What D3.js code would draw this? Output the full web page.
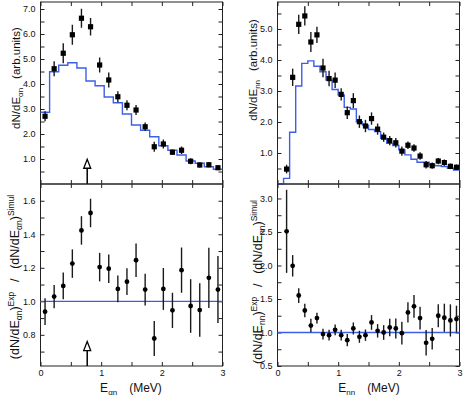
<!DOCTYPE html>
<html>
<head>
<meta charset="utf-8">
<script src="https://d3js.org/d3.v7.min.js"></script>
<style>
  body { margin: 0; background: #fff; }
  text { font-family: "Liberation Sans", Arial, sans-serif; fill: #111; }
</style>
</head>
<body>
<svg id="chart" width="463" height="399"></svg>
<script>
// ---- alpha-n spectrum (left column), bins of 0.15 MeV ----
const alphaE = [0.075,0.225,0.375,0.525,0.675,0.825,0.975,1.125,1.275,1.425,1.575,1.725,1.875,2.025,2.175,2.325,2.475,2.625,2.775,2.925];
const alphaY = [2.71,4.61,5.23,5.97,6.63,6.29,4.76,4.16,3.49,3.15,2.96,2.29,1.49,1.60,1.27,1.35,0.91,0.76,0.77,0.65];
const alphaYErr = [0.2,0.3,0.4,0.4,0.38,0.35,0.3,0.3,0.22,0.2,0.2,0.17,0.2,0.18,0.11,0.15,0.12,0.1,0.1,0.09];
const alphaEdges = [0,0.15,0.3,0.45,0.6,0.75,0.9,1.05,1.2,1.35,1.5,1.65,1.8,1.95,2.1,2.25,2.4,2.55,2.7,2.85,3.0];
const alphaSim = [2.87,4.49,4.75,4.85,4.64,4.12,3.93,3.48,3.25,2.80,2.36,2.15,1.89,1.53,1.35,1.16,0.92,0.83,0.69,0.59];
const alphaRatio = [0.938,1.028,1.092,1.225,1.423,1.527,1.204,1.195,1.074,1.117,1.245,1.07,0.778,1.074,0.946,1.186,0.972,0.948,1.14,1.07];
const alphaRatioErr = [0.08,0.07,0.08,0.085,0.085,0.085,0.085,0.085,0.08,0.08,0.1,0.095,0.105,0.125,0.105,0.135,0.16,0.16,0.18,0.2];

// ---- n-n spectrum (right column), bins of 0.1 MeV ----
const nnE = [0.15,0.25,0.35,0.45,0.55,0.65,0.75,0.85,0.95,1.05,1.15,1.25,1.35,1.45,1.55,1.65,1.75,1.85,1.95,2.05,2.15,2.25,2.35,2.45,2.55,2.65,2.75,2.85,2.95];
const nnY = [0.48,3.44,5.15,5.42,4.58,4.81,3.74,3.40,3.35,2.89,2.30,2.69,2.01,1.87,2.11,1.77,1.51,1.40,1.33,1.06,1.25,1.16,0.90,0.62,0.59,0.74,0.69,0.57,0.54];
const nnYErr = [0.14,0.28,0.31,0.31,0.32,0.26,0.3,0.25,0.25,0.2,0.2,0.24,0.2,0.2,0.2,0.18,0.15,0.15,0.15,0.15,0.12,0.12,0.12,0.12,0.1,0.1,0.1,0.09,0.09];
const nnEdges = [0,0.1,0.2,0.3,0.4,0.5,0.6,0.7,0.8,0.9,1.0,1.1,1.2,1.3,1.4,1.5,1.6,1.7,1.8,1.9,2.0,2.1,2.2,2.3,2.4,2.5,2.6,2.7,2.8,2.9,3.0];
const nnSim = [0,0.18,1.67,3.16,3.89,3.97,3.80,3.62,3.35,3.05,2.87,2.47,2.42,2.01,1.90,1.76,1.69,1.47,1.31,1.24,1.10,0.94,0.80,0.70,0.70,0.61,0.59,0.56,0.51,0.45];
const nnRatio = [2.51,1.995,1.552,1.328,1.104,1.215,0.976,0.96,1.04,0.96,0.886,1.06,0.936,0.96,1.15,1.025,1.0,1.075,1.06,0.99,1.30,1.39,1.215,0.846,0.906,1.25,1.22,1.18,1.20];
const nnRatioErr = [0.62,0.16,0.11,0.1,0.1,0.08,0.08,0.08,0.08,0.08,0.09,0.09,0.09,0.085,0.11,0.1,0.11,0.13,0.15,0.17,0.15,0.17,0.17,0.19,0.16,0.17,0.21,0.24,0.2];

// ---- ticks ----
const xTicks = [0,0.5,1,1.5,2,2.5,3];
const xLabels = [0,1,2,3];
const alphaTopTicks = [0.5,1,1.5,2,2.5,3,3.5,4,4.5,5,5.5,6,6.5,7];
const alphaTopLabels = [1,2,3,4,5,6,7];
const alphaBotTicks = [0.7,0.8,0.9,1.0,1.1,1.2,1.3,1.4,1.5,1.6];
const alphaBotLabels = [0.8,1.0,1.2,1.4,1.6];
const nnTopTicks = [0.5,1,1.5,2,2.5,3,3.5,4,4.5,5,5.5];
const nnTopLabels = [1,2,3,4,5];
const nnBotTicks = [0.5,0.75,1,1.25,1.5,1.75,2,2.25,2.5,2.75,3];
const nnBotLabels = [0.5,1,1.5,2,2.5,3];

// arrow marking the alpha-n feature
const arrowE = 0.77;
const arrowTopTip = 0.99;
const arrowBotTip = 0.76;

const blue = "#3d5fe6";
const svg = d3.select("#chart");

const xL = d3.scaleLinear().domain([0, 3]).range([40.5, 222.5]);
const xR = d3.scaleLinear().domain([0, 3]).range([277.5, 459.5]);
const yTL = d3.scaleLinear().domain([0, 7.28]).range([184, 2]);
const yBL = d3.scaleLinear().domain([0.614, 1.70]).range([366, 184]);
const yTR = d3.scaleLinear().domain([0, 5.87]).range([184, 2]);
const yBR = d3.scaleLinear().domain([0.5, 3.216]).range([366, 184]);

const has = (arr, d) => arr.some(v => Math.abs(v - d) < 1e-6);

function panel(x, y, yTicks, yLabels, showX) {
  const g = svg.append("g");
  const [x0, x1] = x.range(), [y0, y1] = y.range();
  const clean = s => s.select(".domain").remove();
  g.append("g").attr("transform", `translate(${x0},0)`)
    .call(d3.axisLeft(y).tickValues(yTicks).tickSize(-4).tickPadding(5)
      .tickFormat(d => has(yLabels, d) ? d3.format(".1f")(d) : ""))
    .call(clean);
  g.append("g").attr("transform", `translate(${x1},0)`)
    .call(d3.axisRight(y).tickValues(yTicks).tickSize(-4).tickFormat(""))
    .call(clean);
  g.append("g").attr("transform", `translate(0,${y0})`)
    .call(d3.axisBottom(x).tickValues(xTicks).tickSize(-4).tickPadding(4)
      .tickFormat(d => showX && has(xLabels, d) ? d3.format("d")(d) : ""))
    .call(clean);
  g.append("g").attr("transform", `translate(0,${y1})`)
    .call(d3.axisTop(x).tickValues(xTicks).tickSize(-4).tickFormat(""))
    .call(clean);
  g.selectAll(".tick line").attr("stroke", "#222");
  g.selectAll(".tick text").attr("font-size", 9).attr("fill", "#111")
    .attr("font-family", "Liberation Sans, Arial, sans-serif");
  g.append("rect").attr("x", x0).attr("y", y1)
    .attr("width", x1 - x0).attr("height", y0 - y1)
    .attr("fill", "none").attr("stroke", "#222").attr("stroke-width", 1);
  return g;
}

function histogram(x, y, edges, vals) {
  const pts = vals.map((v, i) => [edges[i], v]);
  pts.push([edges[edges.length - 1], vals[vals.length - 1]]);
  svg.append("path").datum(pts)
    .attr("d", d3.line().x(d => x(d[0])).y(d => y(d[1])).curve(d3.curveStepAfter))
    .attr("fill", "none").attr("stroke", blue).attr("stroke-width", 1.4);
}

function points(x, y, es, vs, errs, square) {
  const g = svg.append("g");
  es.forEach((e, i) => {
    g.append("line")
      .attr("x1", x(e)).attr("x2", x(e))
      .attr("y1", y(vs[i] - errs[i])).attr("y2", y(vs[i] + errs[i]))
      .attr("stroke", "#1a1a1a").attr("stroke-width", 1.4);
    if (square) {
      g.append("rect").attr("x", x(e) - 2.6).attr("y", y(vs[i]) - 2.6)
        .attr("width", 5.2).attr("height", 5.2).attr("fill", "#000");
    } else {
      g.append("circle").attr("cx", x(e)).attr("cy", y(vs[i])).attr("r", 2.4).attr("fill", "#000");
    }
  });
}

function unityLine(x, y) {
  svg.append("line").attr("x1", x(0)).attr("x2", x(3))
    .attr("y1", y(1)).attr("y2", y(1))
    .attr("stroke", blue).attr("stroke-width", 1.3);
}

function arrow(x, y, tipVal) {
  const px = x(arrowE), tip = y(tipVal), base = tip + 9, bottom = y.range()[0];
  svg.append("line").attr("x1", px).attr("x2", px).attr("y1", base).attr("y2", bottom)
    .attr("stroke", "#000").attr("stroke-width", 1.5);
  svg.append("path")
    .attr("d", `M${px},${tip}L${px - 3.5},${base}L${px + 3.5},${base}Z`)
    .attr("fill", "#fff").attr("stroke", "#000").attr("stroke-width", 1.3);
}

// top-left
panel(xL, yTL, alphaTopTicks, alphaTopLabels, false);
histogram(xL, yTL, alphaEdges, alphaSim);
points(xL, yTL, alphaE, alphaY, alphaYErr, true);
arrow(xL, yTL, arrowTopTip);

// bottom-left
panel(xL, yBL, alphaBotTicks, alphaBotLabels, true);
unityLine(xL, yBL);
points(xL, yBL, alphaE, alphaRatio, alphaRatioErr, false);
arrow(xL, yBL, arrowBotTip);

// top-right
panel(xR, yTR, nnTopTicks, nnTopLabels, false);
histogram(xR, yTR, nnEdges, nnSim);
points(xR, yTR, nnE, nnY, nnYErr, true);

// bottom-right
panel(xR, yBR, nnBotTicks, nnBotLabels, true);
unityLine(xR, yBR);
points(xR, yBR, nnE, nnRatio, nnRatioErr, false);

// ---- axis titles ----
function specLabel(tx, ty, sub) {
  const t = svg.append("text").attr("transform", `translate(${tx},${ty}) rotate(-90)`)
    .attr("text-anchor", "middle").attr("font-size", 11.5);
  t.append("tspan").text("dN/dE");
  t.append("tspan").attr("font-size", 8).attr("dy", 3).text(sub);
  t.append("tspan").attr("dy", -3).text("\u2002 (arb.units)");
}
function ratioLabel(tx, ty, sub) {
  const t = svg.append("text").attr("transform", `translate(${tx},${ty}) rotate(-90)`)
    .attr("text-anchor", "middle").attr("font-size", 12.5);
  t.append("tspan").text("(dN/dE");
  t.append("tspan").attr("font-size", 8.5).attr("dy", 3).text(sub);
  t.append("tspan").attr("dy", -3).text(")");
  t.append("tspan").attr("font-size", 8.5).attr("dy", -5).text("Exp");
  t.append("tspan").attr("dy", 5).text("\u2002 / \u2002(dN/dE");
  t.append("tspan").attr("font-size", 8.5).attr("dy", 3).text(sub);
  t.append("tspan").attr("dy", -3).text(")");
  t.append("tspan").attr("font-size", 8.5).attr("dy", -5).text("Simul");
}
function xLabel(cx, sub) {
  const t = svg.append("text").attr("x", cx).attr("y", 392)
    .attr("text-anchor", "middle").attr("font-size", 12);
  t.append("tspan").text("E");
  t.append("tspan").attr("font-size", 8).attr("dy", 3).text(sub);
  t.append("tspan").attr("dy", -3).text("\u2003(MeV)");
}

specLabel(20, 78, "\u03b1n");
specLabel(257, 70, "nn");
ratioLabel(19, 277, "\u03b1n");
ratioLabel(262, 282, "nn");
xLabel(131, "\u03b1n");
xLabel(369, "nn");
</script>
</body>
</html>
